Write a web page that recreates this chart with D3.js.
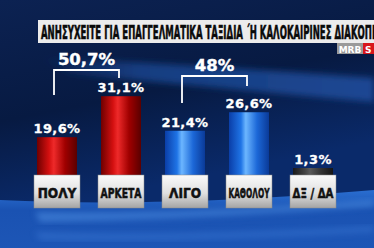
<!DOCTYPE html>
<meta charset="utf-8">
<style>
html, body { margin: 0; padding: 0; background: #07173c; }
svg { display: block; }
.cond { font-family: "Liberation Sans Narrow", "DejaVu Sans Condensed", "Roboto Condensed", sans-serif; font-weight: bold; }
.val { font-family: "DejaVu Sans", "Open Sans", sans-serif; font-weight: bold; fill: #fff; }
</style>
<body>
<script src="https://cdn.jsdelivr.net/npm/d3@7"></script>
<script>

var width = 374,
    height = 248;

var title = "ΑΝΗΣΥΧΕΙΤΕ ΓΙΑ ΕΠΑΓΓΕΛΜΑΤΙΚΑ ΤΑΞΙΔΙΑ ΄Η ΚΑΛΟΚΑΙΡΙΝΕΣ ΔΙΑΚΟΠΕΣ;";
var categories = ["ΠΟΛΥ", "ΑΡΚΕΤΑ", "ΛΙΓΟ", "ΚΑΘΟΛΟΥ", "ΔΞ / ΔΑ"];
var values = [19.6, 31.1, 21.4, 26.6, 1.3];
var colorKeys = ["red", "red", "blue", "blue", "grey"];
var groupRanges = [[0, 1], [2, 3]];
var groupTotals = ["50,7%", "48%"];

function fmt(v) { return String(v.toFixed(1)).replace(".", ",") + "%"; }

var svg = d3.select("body").append("svg")
    .attr("width", width)
    .attr("height", height);

var defs = svg.append("defs");

// background
var bg = defs.append("linearGradient").attr("id", "bg").attr("x1", 0).attr("y1", 0).attr("x2", 0.3).attr("y2", 1);
bg.append("stop").attr("offset", 0).attr("stop-color", "#0c2252");
bg.append("stop").attr("offset", 0.45).attr("stop-color", "#071a42");
bg.append("stop").attr("offset", 0.8).attr("stop-color", "#0a2a6a");

var floor = defs.append("linearGradient").attr("id", "floor").attr("x1", 0).attr("y1", 0).attr("x2", 0).attr("y2", 1);
floor.append("stop").attr("offset", 0).attr("stop-color", "#2a6ed0");
floor.append("stop").attr("offset", 0.35).attr("stop-color", "#1a52b2");
floor.append("stop").attr("offset", 1).attr("stop-color", "#1d56b6");

var swoosh = defs.append("linearGradient").attr("id", "swoosh").attr("x1", 0).attr("y1", 0).attr("x2", 1).attr("y2", 0);
swoosh.append("stop").attr("offset", 0).attr("stop-color", "#1a4690").attr("stop-opacity", 0);
swoosh.append("stop").attr("offset", 0.3).attr("stop-color", "#1a4690").attr("stop-opacity", 0.8);
swoosh.append("stop").attr("offset", 1).attr("stop-color", "#1d4c9a").attr("stop-opacity", 0.9);

defs.append("filter").attr("id", "blur").append("feGaussianBlur").attr("stdDeviation", 3);

svg.append("rect").attr("width", width).attr("height", height).attr("fill", "url(#bg)");

svg.append("path")
    .attr("d", "M40,58 C150,62 260,70 374,78 L374,102 C280,94 180,84 70,74 Z")
    .attr("fill", "url(#swoosh)")
    .attr("filter", "url(#blur)");

svg.append("path")
    .attr("d", "M0,200 C120,206 260,200 374,190 L374,248 L0,248 Z")
    .attr("fill", "url(#floor)");
svg.append("path")
    .attr("d", "M35,212 C150,214 270,208 374,200 L374,206 C270,214 150,220 40,222 Z")
    .attr("fill", "#4c8ce0").attr("opacity", 0.6).attr("filter", "url(#blur)");
svg.append("path")
    .attr("d", "M35,232 C150,236 270,232 374,226 L374,232 C270,238 150,242 40,240 Z")
    .attr("fill", "#3a78d4").attr("opacity", 0.5).attr("filter", "url(#blur)");

// bar gradients
var palette = {
  red: ["#6e0000", "#d41010", "#ee2a2a", "#a00000", "#5a0000"],
  blue: ["#0a3ea8", "#1f74e6", "#6cb6ff", "#1c68d8", "#0a3a98"],
  grey: ["#1a1a1a", "#444", "#5a5a5a", "#333", "#151515"]
};
Object.keys(palette).forEach(function(k) {
  var g = defs.append("linearGradient").attr("id", "bar-" + k).attr("x1", 0).attr("y1", 0).attr("x2", 1).attr("y2", 0);
  [0, 0.3, 0.42, 0.7, 1].forEach(function(o, i) {
    g.append("stop").attr("offset", o).attr("stop-color", palette[k][i]);
  });
});

var tag = defs.append("linearGradient").attr("id", "tag").attr("x1", 0).attr("y1", 0).attr("x2", 0).attr("y2", 1);
tag.append("stop").attr("offset", 0).attr("stop-color", "#fafafa");
tag.append("stop").attr("offset", 0.55).attr("stop-color", "#e0e0e0");
tag.append("stop").attr("offset", 1).attr("stop-color", "#a4a4a4");

// scales
var x = d3.scaleBand()
    .domain(categories)
    .range([25, 345])
    .paddingInner(0.375)
    .paddingOuter(0.1875);

var y = d3.scaleLinear()
    .domain([0, 32])
    .range([207, 93]);

var tagTop = 175,
    tagHeight = 33,
    minStub = 7;

function barTop(v) { return Math.min(y(v), tagTop - minStub); }

// bars
svg.append("g").selectAll("rect")
    .data(values)
  .enter().append("rect")
    .attr("x", function(d, i) { return x(categories[i]); })
    .attr("y", function(d) { return barTop(d); })
    .attr("width", x.bandwidth())
    .attr("height", function(d) { return y(0) - barTop(d); })
    .attr("fill", function(d, i) { return "url(#bar-" + colorKeys[i] + ")"; });

// value labels
svg.append("g").selectAll("text")
    .data(values)
  .enter().append("text")
    .attr("class", "val")
    .attr("x", function(d, i) { return x(categories[i]) + x.bandwidth() / 2; })
    .attr("y", function(d) { return barTop(d) - 4; })
    .attr("text-anchor", "middle")
    .attr("font-size", 13)
    .attr("letter-spacing", 0.4)
    .attr("stroke", "#fff")
    .attr("stroke-width", 0.3)
    .text(fmt);

// category tags
var tags = svg.append("g").selectAll("g")
    .data(categories)
  .enter().append("g")
    .attr("transform", function(d) { return "translate(" + (x(d) + x.bandwidth() / 2) + "," + tagTop + ")"; });

tags.append("rect")
    .attr("x", -23)
    .attr("width", 46)
    .attr("height", tagHeight)
    .attr("fill", "url(#tag)")
    .attr("stroke", "#8a8a8a")
    .attr("stroke-width", 0.5);

tags.append("text")
    .attr("class", "cond")
    .attr("y", 22.5)
    .attr("text-anchor", "middle")
    .attr("font-size", 13.5)
    .attr("fill", "#111")
    .attr("stroke", "#111")
    .attr("stroke-width", 0.5)
    .text(function(d) { return d; })
    .each(function() {
      var w = this.getComputedTextLength();
      if (w > 41) d3.select(this).attr("textLength", 41).attr("lengthAdjust", "spacingAndGlyphs");
    });

// group brackets
var bracketY = [70, 76],
    legEnds = [[95, 78], [103, 86]];

groupRanges.forEach(function(r, i) {
  var x0 = x(categories[r[0]]) + x.bandwidth() / 2 - 3,
      x1 = x(categories[r[1]]) + x.bandwidth() / 2 - 2,
      yb = bracketY[i];
  svg.append("path")
      .attr("d", "M" + x0 + "," + legEnds[i][0] + "V" + yb + "H" + x1 + "V" + legEnds[i][1])
      .attr("fill", "none")
      .attr("stroke", "#fff")
      .attr("stroke-width", 1.8);
  svg.append("text")
      .attr("class", "val")
      .attr("x", (x0 + x1) / 2)
      .attr("y", yb - 5)
      .attr("text-anchor", "middle")
      .attr("font-size", 16.5)
      .attr("stroke", "#fff")
      .attr("stroke-width", 0.4)
      .text(groupTotals[i]);
});

// title bar
svg.append("rect")
    .attr("x", 38).attr("y", 20)
    .attr("width", width - 38).attr("height", 23)
    .attr("fill", "#ececec");

svg.append("text")
    .attr("class", "cond")
    .attr("x", 41).attr("y", 39)
    .attr("font-size", 19)
    .attr("fill", "#0a0a0a")
    .attr("stroke", "#0a0a0a")
    .attr("stroke-width", 0.6)
    .attr("textLength", 346)
    .attr("lengthAdjust", "spacingAndGlyphs")
    .text(title);

// logo
svg.append("rect").attr("x", 337).attr("y", 43).attr("width", 26).attr("height", 11).attr("fill", "#9a9a9a");
svg.append("rect").attr("x", 363).attr("y", 43).attr("width", 11).attr("height", 11).attr("fill", "#d8161b");
svg.append("text").attr("x", 350).attr("y", 52.5).attr("text-anchor", "middle")
    .attr("font-family", "DejaVu Sans").attr("font-weight", "bold").attr("font-size", 9).attr("fill", "#fff").text("MRB");
svg.append("text").attr("x", 365).attr("y", 52.5)
    .attr("font-family", "DejaVu Sans").attr("font-weight", "bold").attr("font-size", 9).attr("fill", "#fff").text("S");

</script>
